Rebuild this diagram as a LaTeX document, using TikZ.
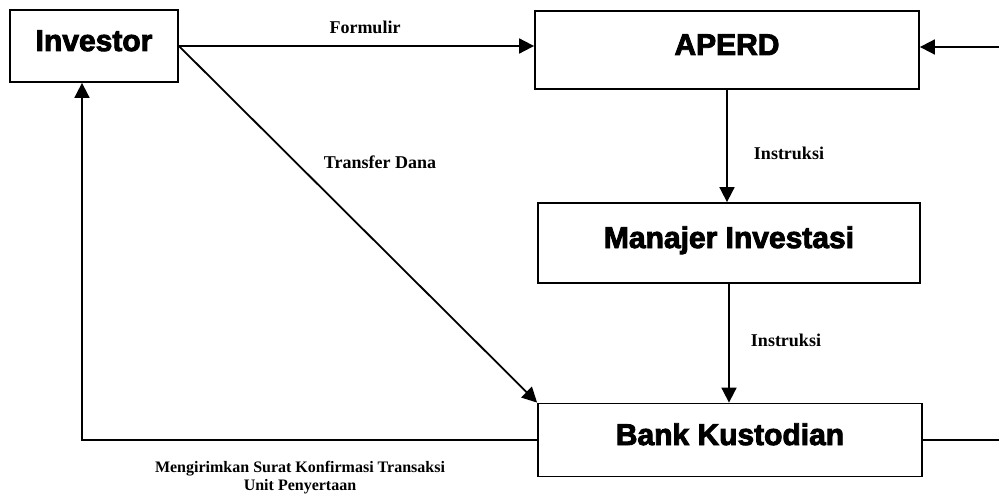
\documentclass[tikz,border=0pt]{standalone}
\usepackage{fontspec}
\setmainfont{Liberation Serif}
\newfontfamily\boxfont{Liberation Sans Bold}[FakeBold=3]
\usetikzlibrary{positioning,arrows.meta}

\begin{document}
\begin{tikzpicture}[x=1pt,y=-1pt,
    unitbox/.style = {draw=black, line width=1.8pt, text height=21pt, text depth=11pt,
                      font=\boxfont\fontsize{30}{33}\selectfont},
    flow/.style = {line width=1.8pt, -{Triangle[length=15pt,width=15pt]}},
    lbl/.style = {font=\bfseries\fontsize{18}{20}\selectfont}]
\useasboundingbox (0,0) rectangle (999,495);
\node[unitbox, minimum width=168pt, minimum height=72pt] (inv) at (94,46) {Investor};
\node[unitbox, minimum width=384pt, minimum height=78pt] (aperd) at (727,50) {APERD};
\node[unitbox, minimum width=382pt, minimum height=80pt] (mi) at (729,243) {Manajer Investasi};
\node[unitbox, minimum width=384pt, minimum height=73pt] (bk) at (730,440) {Bank Kustodian};
\coordinate (rin) at (999,47);
\coordinate (rout) at (999,440);
% arrows
\draw[flow] (inv.east) -- (inv.east -| aperd.west);
\draw[flow] (rin) -- (rin -| aperd.east);
\draw[flow] (aperd.south) -- (aperd.south |- mi.north);
\draw[flow] (mi.south) -- (mi.south |- bk.north);
\draw[flow] (inv.east) -- (bk.north west);
\draw[flow] (bk.west) -| ([xshift=-12pt]inv.south);
\draw[line width=1.8pt] (bk.east) -- (rout);
% labels
\node[lbl] (formulir) at (365,27) {Formulir};
\node[lbl] (transfer) at (380,162) {Transfer Dana};
\node[lbl] (instr1) at (789,153) {Instruksi};
\node[lbl] (instr2) at (786,340) {Instruksi};
\node[font=\bfseries\fontsize{16}{18}\selectfont, align=center] (konfirm) at (300,478)
    {Mengirimkan Surat Konfirmasi Transaksi\\Unit Penyertaan};
\end{tikzpicture}
\end{document}
